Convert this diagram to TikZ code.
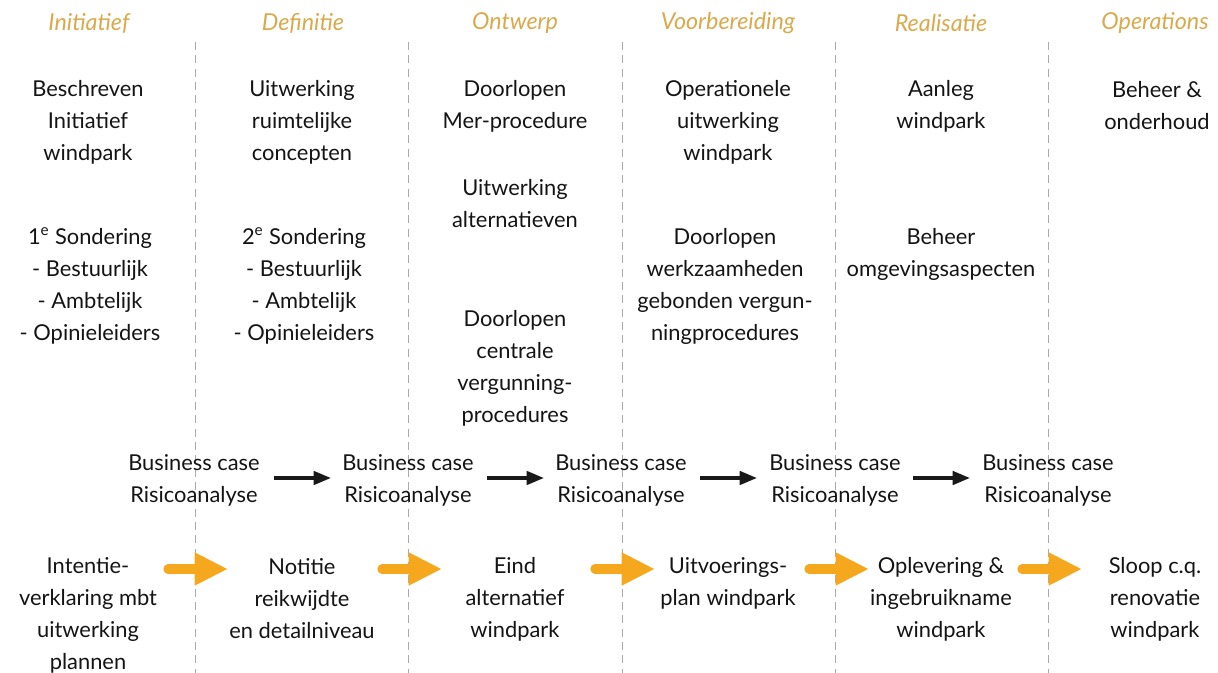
\documentclass[tikz,border=0pt]{standalone}
\usepackage{fontspec}
\setmainfont{Lato}
\usetikzlibrary{arrows.meta}
\definecolor{gold}{HTML}{D9A94C}
\definecolor{orangearrow}{HTML}{F5A81E}
\definecolor{dashgrey}{HTML}{AAAAAA}
\tikzset{
  body/.style={align=center, font=\fontsize{16.4}{24}\selectfont, text=black!92, inner sep=0pt},
  phase/.style={font=\fontsize{17.5}{20}\selectfont\itshape, text=gold, inner sep=0pt},
  divider/.style={draw=dashgrey, line width=0.6pt, dash pattern=on 6pt off 4pt},
  blackarrow/.style={draw=black!90, line width=2.6pt, -{Triangle[length=13pt,width=10pt]}},
  orangearr/.style={draw=orangearrow, line width=7pt, line cap=round, -{Triangle[length=25pt,width=23pt]}}
}
\begin{document}
\begin{tikzpicture}[x=0.75pt,y=-0.75pt]
\useasboundingbox (0,0) rectangle (1218,673);
% dividers
\foreach \i/\x in {1/195,2/408,3/622,4/835,5/1048}{
  \coordinate (dt\i) at (\x,42);
  \coordinate (db\i) at (\x,673);
  \draw[divider] (dt\i) -- (db\i);
}
% headers
\node[phase] (h1) at (89,23) {Initiatief};
\node[phase] (h2) at (303,23) {Definitie};
\node[phase] (h3) at (515,23) {Ontwerp};
\node[phase] (h4) at (728,23) {Voorbereiding};
\node[phase] (h5) at (941,23) {Realisatie};
\node[phase] (h6) at (1155,23) {Operations};
% column 1
\node[body] (c1a) at (88,122) {Beschreven\\Initiatief\\windpark};
\node[body] (c1b) at (90,286) {1\textsuperscript{e} Sondering\\- Bestuurlijk\\- Ambtelijk\\- Opinieleiders};
% column 2
\node[body] (c2a) at (302,122) {Uitwerking\\ruimtelijke\\concepten};
\node[body] (c2b) at (304,286) {2\textsuperscript{e} Sondering\\- Bestuurlijk\\- Ambtelijk\\- Opinieleiders};
% column 3
\node[body] (c3a) at (515,106) {Doorlopen\\Mer-procedure};
\node[body] (c3b) at (515,204) {Uitwerking\\alternatieven};
\node[body] (c3c) at (515,368) {Doorlopen\\centrale\\vergunning-\\procedures};
% column 4
\node[body] (c4a) at (728,122) {Operationele\\uitwerking\\windpark};
\node[body] (c4b) at (725,286) {Doorlopen\\werkzaamheden\\gebonden vergun-\\ningprocedures};
% column 5
\node[body] (c5a) at (941,106) {Aanleg\\windpark};
\node[body] (c5b) at (941,254) {Beheer\\omgevingsaspecten};
% column 6
\node[body] (c6a) at (1157,106) {Beheer \&\\onderhoud};
% business case row
\foreach \i/\x in {1/194,2/408,3/621,4/835,5/1048}{
  \node[body] (bc\i) at (\x,480) {Business case\\Risicoanalyse};
}
\foreach \i/\x in {1/274,2/487,3/700,4/913}{
  \coordinate (ba\i) at (\x,478);
  \coordinate (bb\i) at (\x+57,478);
  \draw[blackarrow] (ba\i) -- (bb\i);
}
% bottom row
\node[body] (o1) at (88,615) {Intentie-\\verklaring mbt\\uitwerking\\plannen};
\node[body] (o2) at (302,599) {Notitie\\reikwijdte\\en detailniveau};
\node[body] (o3) at (515,599) {Eind\\alternatief\\windpark};
\node[body] (o4) at (728,583) {Uitvoerings-\\plan windpark};
\node[body] (o5) at (941,599) {Oplevering \&\\ingebruikname\\windpark};
\node[body] (o6) at (1155,599) {Sloop c.q.\\renovatie\\windpark};
\foreach \i/\x in {1/168,2/382,3/595,4/809,5/1022}{
  \coordinate (oa\i) at (\x,569);
  \coordinate (ob\i) at (\x+60,569);
  \draw[orangearr] (oa\i) -- (ob\i);
}
\end{tikzpicture}
\end{document}
